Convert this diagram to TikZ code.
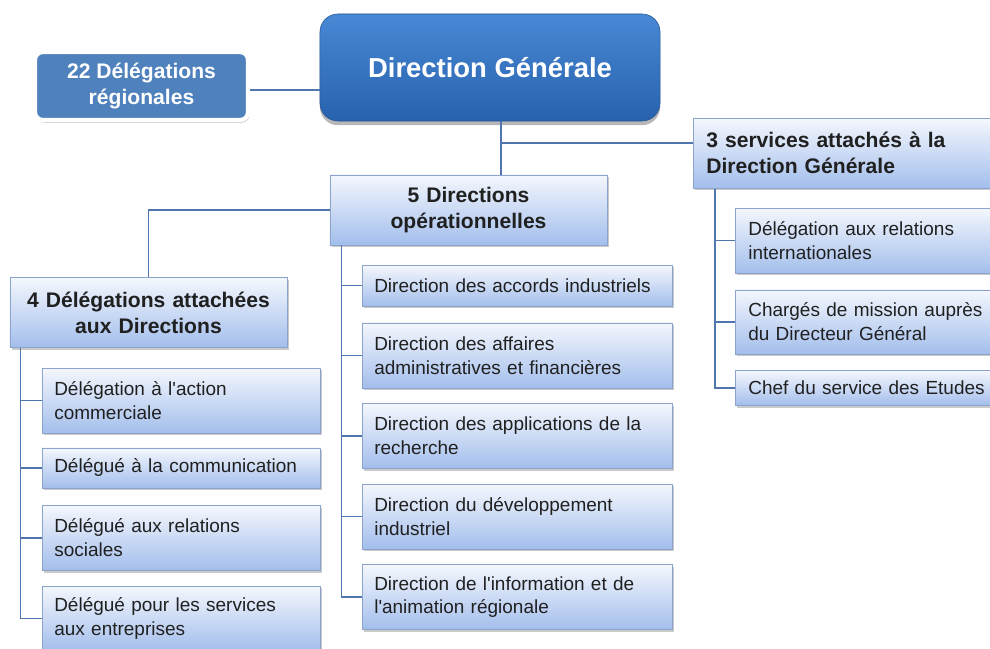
\documentclass[tikz,border=0pt]{standalone}
\usepackage{fontspec}
\setmainfont{Liberation Sans}
\usetikzlibrary{positioning,shadows}

\definecolor{linkblue}{RGB}{79,119,174}
\definecolor{boxline}{RGB}{140,164,204}
\definecolor{boxtop}{RGB}{244,247,253}
\definecolor{boxbottom}{RGB}{163,190,236}
\definecolor{dgtop}{RGB}{72,136,212}
\definecolor{dgbottom}{RGB}{40,98,174}
\definecolor{dgline}{RGB}{36,84,150}
\definecolor{regblue}{RGB}{79,129,189}
\definecolor{inktext}{RGB}{32,32,32}

\begin{document}
\begin{tikzpicture}
[x=0.025cm, y=-0.025cm, font=\fontsize{13.5}{17}\selectfont,
% STYLES
line/.style={draw=linkblue, line width=0.9pt},
boxshadow/.style={drop shadow={shadow xshift=1.5pt, shadow yshift=-1.5pt, opacity=0.35, fill=black!60}},
head/.style={rectangle, draw=boxline, top color=boxtop, bottom color=boxbottom, boxshadow, inner xsep=0.3cm, text width=6.325cm, minimum height=1.75cm, align=center, text=inktext, font=\fontsize{15}{18.5}\selectfont\bfseries},
item/.style={rectangle, draw=boxline, top color=boxtop, bottom color=boxbottom, boxshadow, inner xsep=0.3cm, text width=7.15cm, minimum height=1.625cm, align=left, text=inktext},
dg/.style={rectangle, rounded corners=0.45cm, draw=dgline, top color=dgtop, bottom color=dgbottom, drop shadow={shadow xshift=0pt, shadow yshift=-3pt, opacity=0.4, fill=black!70}, minimum width=8.5cm, minimum height=2.675cm, text=white, font=\fontsize{19.5}{23}\selectfont\bfseries},
reg/.style={rectangle, rounded corners=0.2cm, draw=white, line width=3pt, fill=regblue, drop shadow={shadow xshift=1pt, shadow yshift=-2pt, opacity=0.3, fill=black!60}, minimum width=5.325cm, minimum height=1.7cm, align=center, text=white, font=\fontsize{15}{18.5}\selectfont\bfseries}]

\clip (0,0) rectangle (990,649);

% Top
\node [dg] (dg) at (490,67.5) {Direction Générale};
\node [reg] (reg) at (141.5,86) {22 Délégations\\régionales};

% Headers
\node [head] (dir5) at (468.5,210) {5 Directions\\opérationnelles};
\node [head] (del4) at (148.5,312.5) {4 Délégations attachées\\aux Directions};
\node [head, anchor=north west, align=left, inner xsep=0.325cm, text width=7.35cm] (svc3) at (693,118) {3 services attachés à la\\Direction Générale};

% 5 Directions
\node [item, anchor=north west, minimum height=1.025cm] (dir-acc) at (362,265) {Direction des accords industriels};
\node [item, below=0.4cm of dir-acc] (dir-aaf) {Direction des affaires\\administratives et financières};
\node [item, below=0.375cm of dir-aaf] (dir-app) {Direction des applications de la\\recherche};
\node [item, below=0.375cm of dir-app] (dir-dev) {Direction du développement\\industriel};
\node [item, below=0.375cm of dir-dev] (dir-info) {Direction de l\textquotesingle information et de\\l\textquotesingle animation régionale};

% 4 Delegations
\node [item, anchor=north west, text width=6.35cm] (del-com) at (42,368) {Délégation à l\textquotesingle action\\commerciale};
\node [item, below=0.35cm of del-com, text width=6.35cm, minimum height=1cm] (del-cmm) {Délégué à la communication};
\node [item, below=0.425cm of del-cmm, text width=6.35cm] (del-soc) {Délégué aux relations\\sociales};
\node [item, below=0.375cm of del-soc, text width=6.35cm] (del-ent) {Délégué pour les services\\aux entreprises};

% 3 services
\node [item, anchor=north west, inner xsep=0.325cm, text width=7.35cm] (svc-dri) at (735,208) {Délégation aux relations\\internationales};
\node [item, below=0.4cm of svc-dri, inner xsep=0.325cm, text width=7.35cm, minimum height=1.6cm] (svc-cdm) {Chargés de mission auprès\\du Directeur Général};
\node [item, below=0.4cm of svc-cdm, inner xsep=0.325cm, text width=7.35cm, minimum height=0.875cm] (svc-etu) {Chef du service des Etudes};

%%%%%%%%%%%%%%%%

\coordinate (trunk) at (501,143);
\coordinate (dir5-bus) at ([xshift=0.3cm]dir5.south west);
\coordinate (del4-bus) at ([xshift=0.275cm]del4.south west);
\coordinate (svc3-bus) at ([xshift=0.55cm]svc3.south west);

\draw[line] ([yshift=-0.1cm]reg.east) -- ([yshift=-0.1cm]reg.east -| dg.west);
\draw[line] (dg.south -| trunk) -- (dir5.north -| trunk);
\draw[line] (trunk) -- (trunk -| svc3.west);
\draw[line] (dir5.west) -| (del4.north);

\draw[line] (dir5-bus) |- (dir-info.west);
\foreach \n in {dir-acc,dir-aaf,dir-app,dir-dev}
  \draw[line] (dir5-bus |- \n.west) -- (\n.west);

\draw[line] (del4-bus) |- (del-ent.west);
\foreach \n in {del-com,del-cmm,del-soc}
  \draw[line] (del4-bus |- \n.west) -- (\n.west);

\draw[line] (svc3-bus) |- (svc-etu.west);
\foreach \n in {svc-dri,svc-cdm}
  \draw[line] (svc3-bus |- \n.west) -- (\n.west);

\end{tikzpicture}
\end{document}
